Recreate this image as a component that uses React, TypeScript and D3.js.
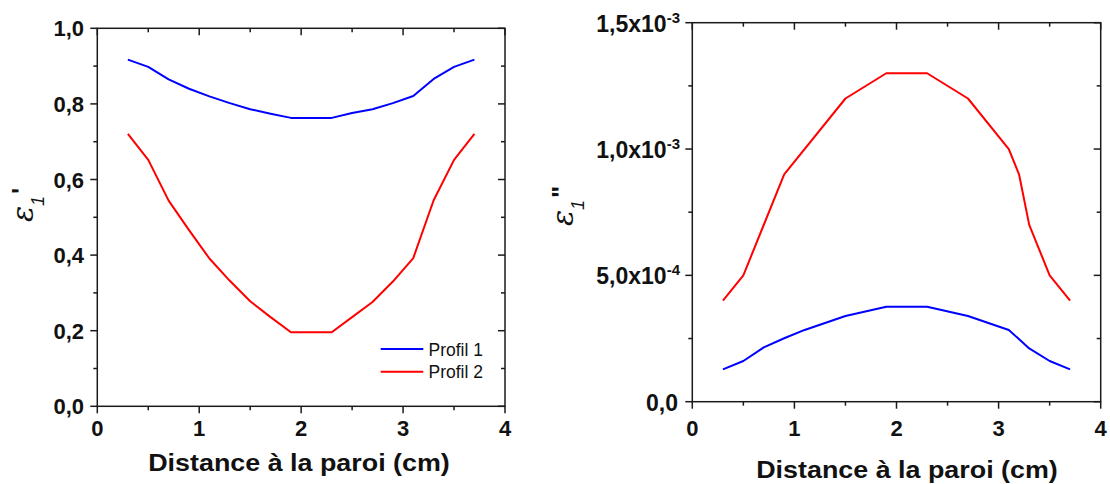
import React from "react";
import * as d3 from "d3";

// ---- Data ----
const xLeft = [0.3, 0.5, 0.7, 0.9, 1.1, 1.3, 1.5, 1.7, 1.9, 2.1, 2.3, 2.5, 2.7, 2.9, 3.1, 3.3, 3.5, 3.7];
const leftProfil1 = [0.917, 0.898, 0.865, 0.840, 0.820, 0.802, 0.786, 0.774, 0.763, 0.763, 0.763, 0.776, 0.786, 0.802, 0.821, 0.866, 0.898, 0.917];
const leftProfil2 = [0.721, 0.652, 0.544, 0.466, 0.391, 0.332, 0.278, 0.236, 0.196, 0.196, 0.196, 0.236, 0.276, 0.330, 0.392, 0.545, 0.652, 0.721];

const xRightP1 = [0.3, 0.5, 0.7, 0.9, 1.1, 1.5, 1.9, 2.3, 2.7, 3.1, 3.3, 3.5, 3.7];
const rightProfil1 = [1.28e-4, 1.61e-4, 2.15e-4, 2.51e-4, 2.84e-4, 3.39e-4, 3.76e-4, 3.76e-4, 3.39e-4, 2.84e-4, 2.11e-4, 1.61e-4, 1.28e-4];
const xRightP2 = [0.3, 0.5, 0.9, 1.5, 1.9, 2.3, 2.7, 3.1, 3.2, 3.3, 3.5, 3.7];
const rightProfil2 = [4.0e-4, 5.0e-4, 9.0e-4, 1.2e-3, 1.3e-3, 1.3e-3, 1.2e-3, 1.0e-3, 9.0e-4, 7.0e-4, 5.0e-4, 4.0e-4];

const xTicks = [0, 1, 2, 3, 4];
const leftYTicks = [0, 0.2, 0.4, 0.6, 0.8, 1.0];
const leftYTickLabels = ["0,0", "0,2", "0,4", "0,6", "0,8", "1,0"];
const rightYTicks = [0, 5e-4, 1e-3, 1.5e-3];
const rightYTickMant = ["0,0", "5,0x10", "1,0x10", "1,5x10"];
const rightYTickExp = ["", "-4", "-3", "-3"];

const seriesNames = ["Profil 1", "Profil 2"];
const seriesColors = ["#0000ff", "#ff0000"];
const xTitle = "Distance à la paroi (cm)";

const FONT = "'Liberation Sans', Arial, Helvetica, sans-serif";
const AX = "#1a1a1a";
const TXT = "#111";

function Frame({ x, y, xMinor, yMinor }: any) {
  const [x0, x1] = x.range();
  const [y0, y1] = y.range();
  return (
    <g stroke={AX} strokeWidth={1.5} fill="none">
      <rect x={x0} y={y1} width={x1 - x0} height={y0 - y1} />
      {xMinor.map((t: number, i: number) => {
        const major = xTicks.includes(t);
        return <line key={"b" + i} x1={x(t)} x2={x(t)} y1={y0} y2={y0 + (major ? 7 : 4)} />;
      })}
      {xMinor.map((t: number, i: number) => {
        const major = xTicks.includes(t);
        return <line key={"t" + i} x1={x(t)} x2={x(t)} y1={y1} y2={y1 + (major ? 7 : 4)} />;
      })}
      {yMinor.map((t: any, i: number) => (
        <line key={"l" + i} x1={x0} x2={x0 - (t.major ? 7 : 4)} y1={y(t.v)} y2={y(t.v)} />
      ))}
      {yMinor.map((t: any, i: number) => (
        <line key={"r" + i} x1={x1} x2={x1 - (t.major ? 7 : 4)} y1={y(t.v)} y2={y(t.v)} />
      ))}
    </g>
  );
}

function EpsLabel({ tx, ty, primes }: { tx: number; ty: number; primes: string }) {
  return (
    <g transform={`translate(${tx},${ty}) rotate(-90)`} fill={TXT}>
      <text x={0} y={0} fontSize={30} fontStyle="italic" fontFamily="'DejaVu Serif', serif">
        ε
      </text>
      <text x={16} y={11} fontSize={18} fontStyle="italic">1</text>
      <text x={28} y={-3} fontSize={26} fontWeight="bold">{primes}</text>
    </g>
  );
}

export default function App() {
  const xL = d3.scaleLinear().domain([0, 4]).range([97.3, 505]);
  const yL = d3.scaleLinear().domain([0, 1]).range([406.3, 28.3]);
  const xR = d3.scaleLinear().domain([0, 4]).range([692.3, 1100.7]);
  const yR = d3.scaleLinear().domain([0, 1.5e-3]).range([401.7, 22.7]);

  const xMinor = d3.range(0, 4.001, 0.5).map((v) => Math.round(v * 10) / 10);
  const yMinorL = d3.range(0, 1.0001, 0.1).map((v, i) => ({ v, major: i % 2 === 0 }));
  const yMinorR = d3.range(0, 1.5001e-3, 2.5e-4).map((v, i) => ({ v, major: i % 2 === 0 }));

  const lineL = (ys: number[]) =>
    d3.line<number>().x((_, i) => xL(xLeft[i])).y((d) => yL(d))(ys) || "";
  const lineR = (xs: number[], ys: number[]) =>
    d3.line<number>().x((_, i) => xR(xs[i])).y((d) => yR(d))(ys) || "";

  return (
    <svg
      width={1110}
      height={484}
      style={{ position: "absolute", left: 0, top: 0, background: "#fff" }}
      fontFamily={FONT}
    >
      <rect width={1110} height={484} fill="#fff" />

      {/* ===== Left panel ===== */}
      <Frame x={xL} y={yL} xMinor={xMinor} yMinor={yMinorL} />
      <path d={lineL(leftProfil1)} fill="none" stroke={seriesColors[0]} strokeWidth={2} strokeLinejoin="round" />
      <path d={lineL(leftProfil2)} fill="none" stroke={seriesColors[1]} strokeWidth={2} strokeLinejoin="round" />
      {xTicks.map((t) => (
        <text key={"xl" + t} x={xL(t)} y={436} textAnchor="middle" fontSize={22} fontWeight="bold" fill={TXT}>
          {t}
        </text>
      ))}
      {leftYTicks.map((t, i) => (
        <text key={"yl" + i} x={84} y={yL(t) + 8} textAnchor="end" fontSize={22} fontWeight="bold" fill={TXT}>
          {leftYTickLabels[i]}
        </text>
      ))}
      <text transform="translate(299,471) scale(1.12,1)" textAnchor="middle" fontSize={24} fontWeight="bold" fill={TXT}>
        {xTitle}
      </text>
      <EpsLabel tx={33} ty={222} primes="'" />
      {seriesNames.map((n, i) => (
        <g key={n}>
          <line x1={380.7} x2={423.3} y1={349 + i * 22.7} y2={349 + i * 22.7} stroke={seriesColors[i]} strokeWidth={2} />
          <text x={428.5} y={355.5 + i * 22.7} fontSize={17.5} fill={TXT}>
            {n}
          </text>
        </g>
      ))}

      {/* ===== Right panel ===== */}
      <Frame x={xR} y={yR} xMinor={xMinor} yMinor={yMinorR} />
      <path d={lineR(xRightP1, rightProfil1)} fill="none" stroke={seriesColors[0]} strokeWidth={2} strokeLinejoin="round" />
      <path d={lineR(xRightP2, rightProfil2)} fill="none" stroke={seriesColors[1]} strokeWidth={2} strokeLinejoin="round" />
      {xTicks.map((t) => (
        <text key={"xr" + t} x={xR(t)} y={436} textAnchor="middle" fontSize={22} fontWeight="bold" fill={TXT}>
          {t}
        </text>
      ))}
      {rightYTicks.map((t, i) => (
        <text key={"yr" + i} x={i === 0 ? 678 : 680} y={yR(t) + 9} textAnchor="end" fontSize={23} fontWeight="bold" fill={TXT}>
          {rightYTickMant[i]}
          {rightYTickExp[i] ? (
            <tspan fontSize={15} dy={-9}>
              {rightYTickExp[i]}
            </tspan>
          ) : null}
        </text>
      ))}
      <text transform="translate(907,478) scale(1.12,1)" textAnchor="middle" fontSize={24} fontWeight="bold" fill={TXT}>
        {xTitle}
      </text>
      <EpsLabel tx={573} ty={226} primes={'"'} />
    </svg>
  );
}
